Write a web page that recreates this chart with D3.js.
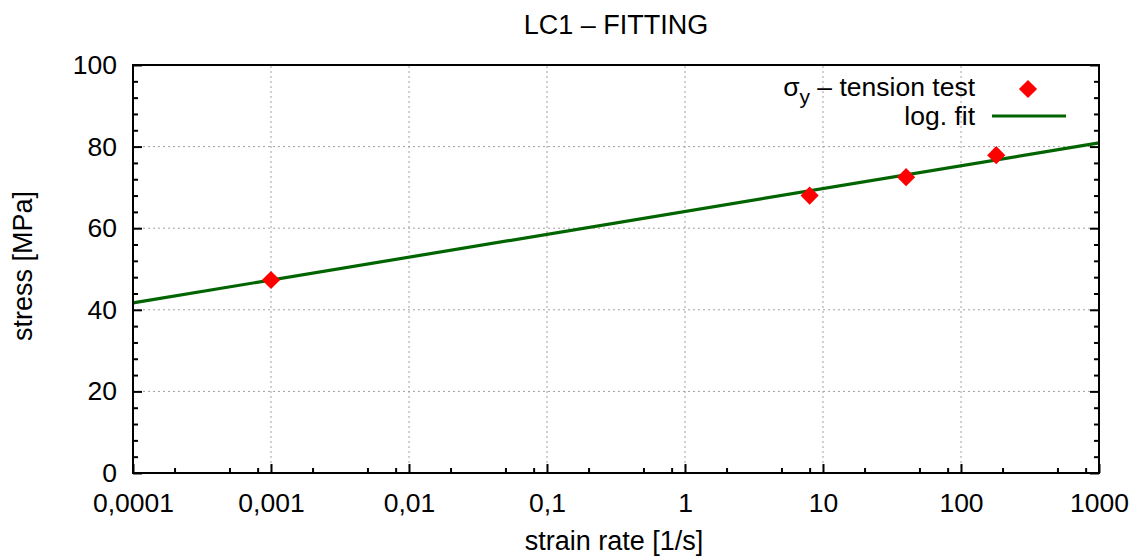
<!DOCTYPE html>
<html><head><meta charset="utf-8">
<script src="https://cdn.jsdelivr.net/npm/d3@7"></script>
<style>
body{margin:0;background:#fff;}
text{font-family:"Liberation Sans",Arial,Helvetica,sans-serif;fill:#000;}
</style></head>
<body><svg id="c" width="1139" height="557"></svg>
<script>
// Data
const strainRate = [0.001, 8, 40, 180];
const stress = [47.3, 68.0, 72.5, 77.9];
const fitA = 64.1;      // stress at strain rate 1
const fitB = 5.6;       // slope per decade
const fitX = [0.0001, 1000];
const xTickValues = [0.0001, 0.001, 0.01, 0.1, 1, 10, 100, 1000];
const xTickLabels = ["0,0001", "0,001", "0,01", "0,1", "1", "10", "100", "1000"];
const xMinorMultipliers = [2, 5, 8];
const yTickValues = [0, 20, 40, 60, 80, 100];
const title = "LC1 \u2013 FITTING";
const xLabel = "strain rate [1/s]";
const yLabel = "stress [MPa]";

const W = 1139, H = 557;
const m = {left: 133, right: 40, top: 65, bottom: 84};
const svg = d3.select("#c");
const x = d3.scaleLog().domain([0.0001, 1000]).range([m.left, W - m.right]);
const y = d3.scaleLinear().domain([0, 100]).range([H - m.bottom, m.top]);
const FS = 26.5, LFS = 27;

// grid
const grid = svg.append("g").attr("stroke", "#a0a0a0").attr("stroke-width", 1).attr("stroke-dasharray", "2,3");
xTickValues.slice(1, -1).forEach(v => {
  grid.append("line").attr("x1", x(v)).attr("x2", x(v)).attr("y1", y(0)).attr("y2", y(100));
});
yTickValues.slice(1, -1).forEach(v => {
  grid.append("line").attr("x1", x(0.0001)).attr("x2", x(1000)).attr("y1", y(v)).attr("y2", y(v));
});

// minor x ticks
const xMinor = [];
xTickValues.slice(0, -1).forEach(d => xMinorMultipliers.forEach(k => xMinor.push(d * k)));
const yMinor = d3.range(0, 100, 4).filter(v => v % 20 !== 0);

const xAxis = d3.axisBottom(x).tickValues(xTickValues).tickFormat((d, i) => xTickLabels[i]).tickSize(-9).tickPadding(20);
const gx = svg.append("g").attr("transform", `translate(0,${y(0)})`).call(xAxis);
gx.select(".domain").remove();
gx.selectAll("line").attr("stroke", "#000").attr("stroke-width", 2);
gx.selectAll("text").attr("font-size", FS).attr("font-family", "Liberation Sans, Arial, sans-serif");
const gxm = svg.append("g").attr("transform", `translate(0,${y(0)})`).call(d3.axisBottom(x).tickValues(xMinor).tickFormat("").tickSize(-5));
gxm.select(".domain").remove();
gxm.selectAll("line").attr("stroke", "#000").attr("stroke-width", 2);

const yAxis = d3.axisLeft(y).tickValues(yTickValues).tickSize(-9).tickPadding(16);
const gy = svg.append("g").attr("transform", `translate(${x(0.0001)},0)`).call(yAxis);
gy.select(".domain").remove();
gy.selectAll("line").attr("stroke", "#000").attr("stroke-width", 2);
gy.selectAll("text").attr("font-size", FS).attr("font-family", "Liberation Sans, Arial, sans-serif");
const gym = svg.append("g").attr("transform", `translate(${x(0.0001)},0)`).call(d3.axisLeft(y).tickValues(yMinor).tickFormat("").tickSize(-5));
gym.select(".domain").remove();
gym.selectAll("line").attr("stroke", "#000").attr("stroke-width", 2);
// right mirror
const gyr = svg.append("g").attr("transform", `translate(${x(1000)},0)`).call(d3.axisRight(y).tickValues(yTickValues).tickFormat("").tickSize(-9));
gyr.select(".domain").remove();
gyr.selectAll("line").attr("stroke", "#000").attr("stroke-width", 2);
const gyrm = svg.append("g").attr("transform", `translate(${x(1000)},0)`).call(d3.axisRight(y).tickValues(yMinor).tickFormat("").tickSize(-5));
gyrm.select(".domain").remove();
gyrm.selectAll("line").attr("stroke", "#000").attr("stroke-width", 2);

// fit line
const line = d3.line().x(d => x(d)).y(d => y(fitA + fitB * Math.log10(d)));
svg.append("path").datum(fitX).attr("d", line).attr("fill", "none").attr("stroke", "#006400").attr("stroke-width", 3.2);

// points
const diamond = d3.symbol().type(d3.symbolSquare).size(165);
svg.append("g").selectAll("path").data(strainRate).join("path")
  .attr("d", diamond)
  .attr("transform", (d, i) => `translate(${x(d)},${y(stress[i])}) rotate(45)`)
  .attr("fill", "#ff0000");

// border
svg.append("rect").attr("x", x(0.0001)).attr("y", y(100)).attr("width", x(1000) - x(0.0001)).attr("height", y(0) - y(100))
  .attr("fill", "none").attr("stroke", "#000").attr("stroke-width", 2);

// legend
const lg = svg.append("g");
const t1 = lg.append("text").attr("x", 975).attr("y", 96).attr("text-anchor", "end").attr("font-size", FS);
t1.append("tspan").text("\u03c3");
t1.append("tspan").attr("font-size", 21).attr("dy", 8).text("y");
t1.append("tspan").attr("dy", -8).text(" \u2013 tension test");
lg.append("path").attr("d", diamond).attr("transform", "translate(1028,89) rotate(45)").attr("fill", "#ff0000");
lg.append("text").attr("x", 975).attr("y", 125).attr("text-anchor", "end").attr("font-size", FS).text("log. fit");
lg.append("line").attr("x1", 992).attr("x2", 1066).attr("y1", 116).attr("y2", 116).attr("stroke", "#006400").attr("stroke-width", 3.2);

// titles
svg.append("text").attr("x", 616).attr("y", 34).attr("text-anchor", "middle").attr("font-size", LFS).text(title);
svg.append("text").attr("x", 614).attr("y", 550).attr("text-anchor", "middle").attr("font-size", LFS).text(xLabel);
svg.append("text").attr("transform", "translate(32,266) rotate(-90)").attr("text-anchor", "middle").attr("font-size", LFS).text(yLabel);
</script></body></html>
